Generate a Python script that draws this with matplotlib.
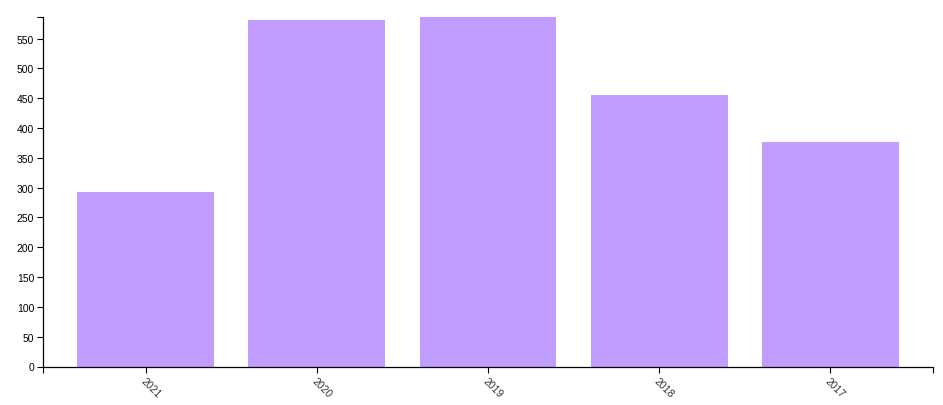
import matplotlib.pyplot as plt

years = ['2021', '2020', '2019', '2018', '2017']
counts = [292, 581, 587, 455, 377]
y_ticks = list(range(0, 551, 50))

plt.rcParams['font.family'] = ['Liberation Sans', 'DejaVu Sans']

fig = plt.figure(figsize=(9.43, 4.06), dpi=100)
ax = fig.add_axes([43 / 943, 38.5 / 406, 890 / 943, 350 / 406])

x = range(len(years))
ax.bar(x, counts, width=0.8, color='#c19dff')

ax.set_xlim(-0.6, len(years) - 0.4)
ax.set_ylim(0, max(counts))
ax.set_yticks(y_ticks)
ax.set_xticks(list(x))
ax.set_xticklabels(years, rotation=-45, ha='left', va='top', rotation_mode='anchor')

# outer ticks at the ends of the axis lines, like a d3 domain path
ax.set_xticks([-0.6, len(years) - 0.4], minor=True)
ax.set_yticks([max(counts)], minor=True)
ax.tick_params(which='both', length=4.3, width=0.8, color='black', labelsize=7.5, pad=2)
ax.tick_params(axis='x', labelcolor='#333333')

for s in ['top', 'right']:
    ax.spines[s].set_visible(False)
for s in ['left', 'bottom']:
    ax.spines[s].set_linewidth(0.9)

plt.savefig('out.png', dpi=100)
